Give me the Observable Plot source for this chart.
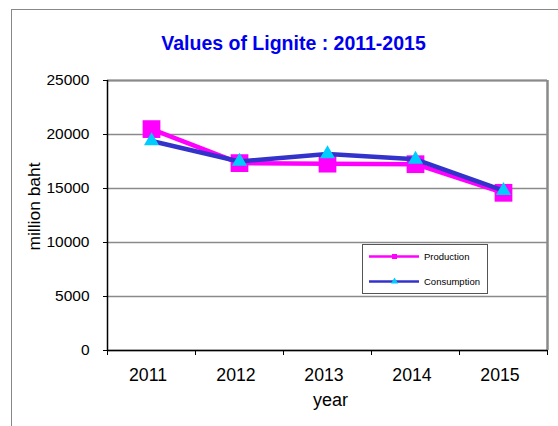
<!DOCTYPE html>
<html><head><meta charset="utf-8">
<script src="https://cdn.jsdelivr.net/npm/d3@7"></script>
<script src="https://cdn.jsdelivr.net/npm/@observablehq/plot@0.6"></script>
<style>
body{margin:0;background:#fff;overflow:hidden}
#wrap{position:relative;width:558px;height:426px;font-family:"Liberation Sans",Arial,sans-serif;overflow:hidden}
#frame{position:absolute;left:11px;top:9px;width:1000px;height:1000px;border-left:1px solid #888;border-top:1px solid #888;pointer-events:none}
#legend{position:absolute;left:362px;top:244px}
#wrap svg{display:block}
</style></head><body><div id="wrap"><div id="frame"></div></div>
<script>
const title = "Values of Lignite : 2011-2015";
const years = [2011, 2012, 2013, 2014, 2015];
const production = [20500, 17350, 17300, 17250, 14600];
const consumption = [19400, 17500, 18200, 17700, 14800];
const yTicks = [0, 5000, 10000, 15000, 20000, 25000];
const seriesNames = ["Production", "Consumption"];
const seriesColors = ["#ff00ff", "#3333cc"];
const markerColors = ["#ff00ff", "#00ccff"];
const xTitle = "year";
const yTitle = "million baht";

const rows = years.map((y, i) => ({year: y, production: production[i], consumption: consumption[i]}));
const boundaries = years.map(y => y - 0.5).concat([years[years.length - 1] + 0.5]);
const xMin = boundaries[0], xMax = boundaries[boundaries.length - 1];
const yMax = yTicks[yTicks.length - 1];

const chart = Plot.plot({
  width: 558, height: 426,
  marginLeft: 107, marginRight: 11, marginTop: 80, marginBottom: 76,
  style: {fontFamily: '"Liberation Sans", Arial, sans-serif', background: "transparent", color: "#000"},
  x: {type: "linear", domain: [xMin, xMax]},
  y: {domain: [0, yMax]},
  marks: [
    Plot.gridY(yTicks, {stroke: "#8a8a8a", strokeOpacity: 1, strokeWidth: 1.3}),
    Plot.ruleY([yMax], {stroke: "#8a8a8a", strokeWidth: 2}),
    Plot.ruleX([xMax], {stroke: "#8a8a8a", strokeWidth: 2.5}),
    Plot.ruleX([xMin], {stroke: "#000", strokeWidth: 1.5}),
    Plot.ruleY([0], {stroke: "#000", strokeWidth: 1.5}),
    Plot.axisY({ticks: yTicks, tickSize: 4, tickPadding: 14, fontSize: 15.5, tickFormat: d => String(d), label: null}),
    Plot.axisX({ticks: boundaries, tickSize: 5, tickFormat: () => "", label: null}),
    Plot.axisX({ticks: years, tickSize: 0, tickPadding: 18, dx: -3.5, fontSize: 17.7, tickFormat: d => String(d), label: null}),
    Plot.line(rows, {x: "year", y: "production", stroke: seriesColors[0], strokeWidth: 4.5}),
    Plot.dot(rows, {x: "year", y: "production", symbol: "square", r: 10, fill: markerColors[0], stroke: "none"}),
    Plot.line(rows, {x: "year", y: "consumption", stroke: seriesColors[1], strokeWidth: 4.5}),
    Plot.dot(rows, {x: "year", y: "consumption", symbol: "triangle", r: 5.6, fill: markerColors[1], stroke: "none"}),
    Plot.text([title], {frameAnchor: "top", lineAnchor: "middle", dx: -34, dy: -37, fontSize: 19.5, fontWeight: "bold", fill: "#0000ee"}),
    Plot.text([xTitle], {frameAnchor: "bottom", lineAnchor: "middle", dx: 3, dy: 50, fontSize: 18, fill: "#000"}),
    Plot.text([yTitle], {frameAnchor: "left", lineAnchor: "middle", dx: -73, dy: -9, rotate: -90, textAnchor: "middle", fontSize: 17.4, fill: "#000"})
  ]
});
document.getElementById("wrap").prepend(chart);

// legend
const lw = 126, lh = 50;
const leg = d3.create("svg").attr("id", "legend").attr("width", lw).attr("height", lh)
  .style("font-family", '"Liberation Sans", Arial, sans-serif');
leg.append("rect").attr("x", 0.5).attr("y", 0.5).attr("width", lw - 1).attr("height", lh - 1)
  .attr("fill", "#fff").attr("stroke", "#555").attr("stroke-width", 1);
seriesNames.forEach((name, i) => {
  const yy = 12.5 + i * 25;
  leg.append("line").attr("x1", 7).attr("x2", 57).attr("y1", yy).attr("y2", yy)
    .attr("stroke", seriesColors[i]).attr("stroke-width", 2.5);
  if (i === 0) {
    leg.append("rect").attr("x", 30).attr("y", yy - 2.5).attr("width", 5).attr("height", 5).attr("fill", markerColors[i]);
  } else {
    leg.append("path").attr("d", d3.symbol(d3.symbolTriangle, 22)()).attr("transform", `translate(32.5,${yy})`).attr("fill", markerColors[i]);
  }
  leg.append("text").attr("x", 62).attr("y", yy).attr("dy", "0.35em").attr("font-size", 9.5).attr("fill", "#000").text(name);
});
document.getElementById("wrap").append(leg.node());
</script>
</body></html>
